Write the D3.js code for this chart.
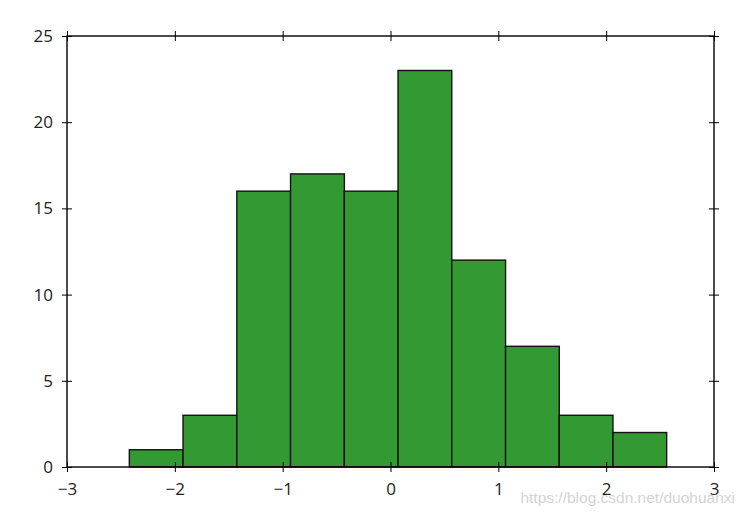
<!DOCTYPE html>
<html>
<head>
<meta charset="utf-8">
<script src="https://cdn.jsdelivr.net/npm/d3@7"></script>
<style>
  body { margin: 0; background: #fff; }
  svg { display: block; }
  text { font-family: "Open Sans", "DejaVu Sans", sans-serif; }
</style>
</head>
<body>
<svg id="chart" width="744" height="516"></svg>
<script>
const binEdges = [-2.422, -1.924, -1.425, -0.927, -0.428, 0.070, 0.568, 1.067, 1.565, 2.063, 2.561];
const counts = [1, 3, 16, 17, 16, 23, 12, 7, 3, 2];
const xTicks = [-3, -2, -1, 0, 1, 2, 3];
const yTicks = [0, 5, 10, 15, 20, 25];
const watermark = "https://blog.csdn.net/duohuanxi";

const svg = d3.select("#chart");
const mLeft = 67, mRight = 714, mTop = 36, mBottom = 467;

const x = d3.scaleLinear().domain([-3, 3]).range([mLeft, mRight]);
const y = d3.scaleLinear().domain([0, 25]).range([mBottom, mTop]);

const bins = counts.map((c, i) => ({ x0: binEdges[i], x1: binEdges[i + 1], c }));

svg.append("g").selectAll("rect").data(bins).join("rect")
  .attr("x", d => x(d.x0))
  .attr("y", d => y(d.c))
  .attr("width", d => x(d.x1) - x(d.x0))
  .attr("height", d => y(0) - y(d.c))
  .attr("fill", "#339933")
  .attr("stroke", "#111")
  .attr("stroke-width", 1.4);

// frame
svg.append("rect")
  .attr("x", mLeft).attr("y", mTop)
  .attr("width", mRight - mLeft).attr("height", mBottom - mTop)
  .attr("fill", "none").attr("stroke", "#000").attr("stroke-width", 1.4);

function styleAxis(g) {
  g.select(".domain").remove();
  g.selectAll(".tick line").attr("stroke", "#000").attr("stroke-width", 1);
  g.selectAll(".tick text").attr("fill", "#222").style("font-size", "17px")
    .style("font-family", '"Open Sans", "DejaVu Sans", sans-serif');
}
const fmt = d => d < 0 ? "\u2212" + Math.abs(d) : String(d);

// bottom axis
svg.append("g").attr("transform", `translate(0,${mBottom})`)
  .call(d3.axisBottom(x).tickValues(xTicks).tickFormat(fmt).tickSizeInner(5).tickSizeOuter(0).tickPadding(11))
  .call(styleAxis)
  .call(g => g.selectAll(".tick line").attr("y1", -5));
// top axis ticks
svg.append("g").attr("transform", `translate(0,${mTop})`)
  .call(d3.axisTop(x).tickValues(xTicks).tickFormat("").tickSizeInner(5).tickSizeOuter(0))
  .call(styleAxis)
  .call(g => g.selectAll(".tick line").attr("y1", 5));
// left axis
svg.append("g").attr("transform", `translate(${mLeft},0)`)
  .call(d3.axisLeft(y).tickValues(yTicks).tickFormat(fmt).tickSizeInner(5).tickSizeOuter(0).tickPadding(9))
  .call(styleAxis)
  .call(g => g.selectAll(".tick line").attr("x1", 5));
// right axis ticks
svg.append("g").attr("transform", `translate(${mRight},0)`)
  .call(d3.axisRight(y).tickValues(yTicks).tickFormat("").tickSizeInner(5).tickSizeOuter(0))
  .call(styleAxis)
  .call(g => g.selectAll(".tick line").attr("x1", -5));

// watermark
svg.append("text")
  .attr("x", 735).attr("y", 503)
  .attr("text-anchor", "end")
  .attr("fill", "#d4d4d4")
  .style("font-size", "15.5px")
  .style("font-family", '"Liberation Sans", Arial, sans-serif')
  .text(watermark);
</script>
</body>
</html>
